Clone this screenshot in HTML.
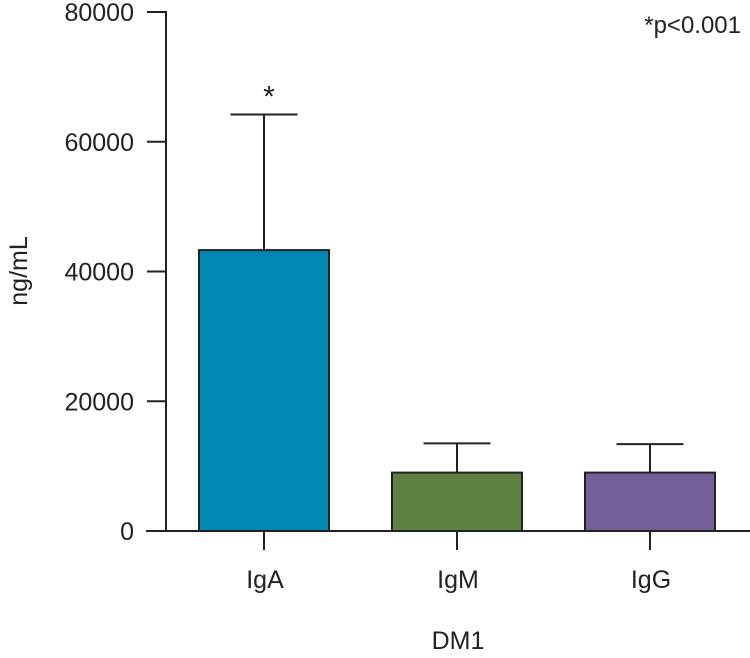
<!DOCTYPE html>
<html><head><meta charset="utf-8"><style>
html,body{margin:0;padding:0;background:#fff;}
svg text{font-family:"Liberation Sans",sans-serif;fill:#222;}
</style></head><body>
<svg id="chart" width="750" height="653" viewBox="0 0 750 653">
<g id="axes"></g>
<g id="bars"></g>
<text x="741" y="33" font-size="24" text-anchor="end">*p&lt;0.001</text>
<text x="458" y="649" font-size="25" text-anchor="middle">DM1</text>
<text transform="translate(27,271) rotate(-90)" font-size="25" text-anchor="middle">ng/mL</text>
</svg>
<script>
const categories = ["IgA","IgM","IgG"];
const means = [43300, 9000, 9000];
const errors = [20900, 4500, 4400];
const colors = ["#0087b3","#5e8040","#745f9a"];
const significant = [true,false,false];
const yTicks = [0,20000,40000,60000,80000];

const NS="http://www.w3.org/2000/svg";
const y0=531, y1=12, ymax=80000;
const x0=166, step=193, first=264, barW=130, capW=67;
function yScale(v){return y0-(v/ymax)*(y0-y1);}
function xScale(i){return first+i*step;}
function mk(tag,attrs,parent){const e=document.createElementNS(NS,tag);for(const k in attrs)e.setAttribute(k,attrs[k]);parent.appendChild(e);return e;}

const axes=document.getElementById('axes');
const bars=document.getElementById('bars');

yTicks.forEach(t=>{
  const y=yScale(t);
  const tk=mk('line',{x1:147,x2:x0,y1:y,y2:y,stroke:'#222','stroke-width':2},axes);
  
  
  const lb=mk('text',{x:134,y:y+9,'font-size':25,'text-anchor':'end'},axes);
  lb.textContent=t;
  
  
});

categories.forEach((c,i)=>{
  const cx=xScale(i);
  const top=yScale(means[i]), etop=yScale(means[i]+errors[i]);
  const el=mk('line',{x1:cx,x2:cx,y1:top,y2:etop,stroke:'#222','stroke-width':2},bars);
  
  
  const cap=mk('line',{x1:cx-capW/2,x2:cx+capW/2,y1:etop,y2:etop,stroke:'#222','stroke-width':2},bars);
  
  
  const r=mk('rect',{x:cx-barW/2,y:top,width:barW,height:y0-top,fill:colors[i],stroke:'#222','stroke-width':2},bars);
  
  
  const tk=mk('line',{x1:cx,x2:cx,y1:y0,y2:550,stroke:'#222','stroke-width':2},axes);
  
  
  const lb=mk('text',{x:cx+1,y:588,'font-size':25,'text-anchor':'middle'},axes);
  lb.textContent=c;
  
  
  if(significant[i]){
    const s=mk('text',{x:cx+5,y:etop-8,'font-size':30,'text-anchor':'middle'},bars);
    s.textContent='*';
    
    
  }
});

const ya=mk('line',{x1:x0,x2:x0,y1:y1-1,y2:y0,stroke:'#222','stroke-width':2},axes);


const xa=mk('line',{x1:146,x2:750,y1:y0,y2:y0,stroke:'#222','stroke-width':2},axes);


</script>
</body></html>
